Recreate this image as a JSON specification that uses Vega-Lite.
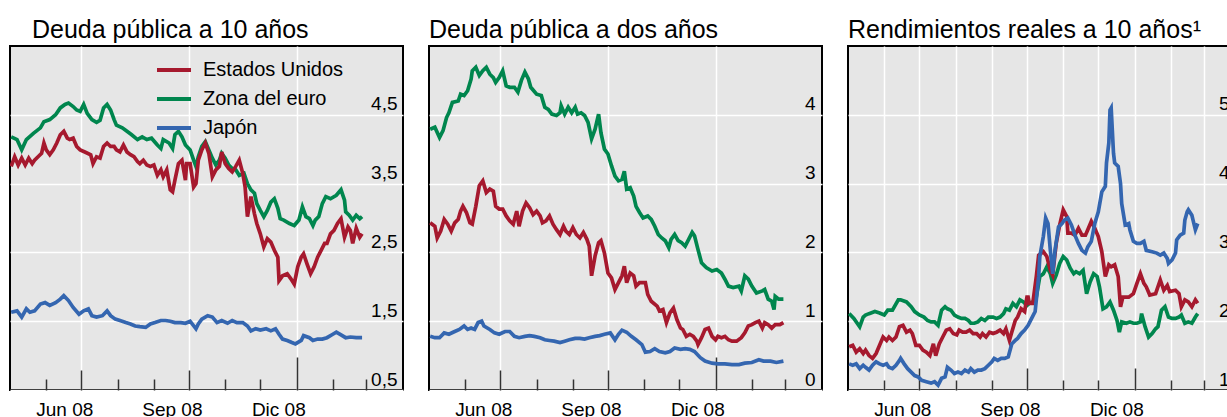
{
"$schema": "https://vega.github.io/schema/vega-lite/v6.json",
"padding": {"left": 9, "top": 17, "right": 0, "bottom": 0},
"background": "white",
"config": {
  "font": "Liberation Sans",
  "view": {"fill": "#e6e6e6", "stroke": "#000000", "strokeWidth": 2},
  "concat": {"spacing": 24},
  "title": {"anchor": "start", "fontSize": 25, "fontWeight": "normal", "color": "#000000", "offset": 3, "baseline": "alphabetic"},
  "axis": {"labelFontSize": 19, "labelColor": "#000000", "title": null}
},
"resolve": {"scale": {"color": "independent"}, "legend": {"color": "independent"}},
"datasets": {
"p1": [
{"fecha":"2008-05-02","serie":"Zona del euro","valor":4.18},{"fecha":"2008-05-07","serie":"Zona del euro","valor":4.14},{"fecha":"2008-05-11","serie":"Zona del euro","valor":3.99},{"fecha":"2008-05-15","serie":"Zona del euro","valor":4.14},{"fecha":"2008-05-21","serie":"Zona del euro","valor":4.23},{"fecha":"2008-05-27","serie":"Zona del euro","valor":4.31},{"fecha":"2008-05-30","serie":"Zona del euro","valor":4.40},{"fecha":"2008-06-04","serie":"Zona del euro","valor":4.43},{"fecha":"2008-06-09","serie":"Zona del euro","valor":4.50},{"fecha":"2008-06-13","serie":"Zona del euro","valor":4.60},{"fecha":"2008-06-17","serie":"Zona del euro","valor":4.65},{"fecha":"2008-06-20","serie":"Zona del euro","valor":4.67},{"fecha":"2008-06-24","serie":"Zona del euro","valor":4.62},{"fecha":"2008-06-27","serie":"Zona del euro","valor":4.57},{"fecha":"2008-06-30","serie":"Zona del euro","valor":4.55},{"fecha":"2008-07-03","serie":"Zona del euro","valor":4.65},{"fecha":"2008-07-06","serie":"Zona del euro","valor":4.52},{"fecha":"2008-07-10","serie":"Zona del euro","valor":4.43},{"fecha":"2008-07-14","serie":"Zona del euro","valor":4.39},{"fecha":"2008-07-17","serie":"Zona del euro","valor":4.42},{"fecha":"2008-07-20","serie":"Zona del euro","valor":4.60},{"fecha":"2008-07-23","serie":"Zona del euro","valor":4.65},{"fecha":"2008-07-26","serie":"Zona del euro","valor":4.57},{"fecha":"2008-07-29","serie":"Zona del euro","valor":4.43},{"fecha":"2008-07-31","serie":"Zona del euro","valor":4.35},{"fecha":"2008-08-05","serie":"Zona del euro","valor":4.31},{"fecha":"2008-08-09","serie":"Zona del euro","valor":4.26},{"fecha":"2008-08-13","serie":"Zona del euro","valor":4.21},{"fecha":"2008-08-18","serie":"Zona del euro","valor":4.14},{"fecha":"2008-08-22","serie":"Zona del euro","valor":4.18},{"fecha":"2008-08-26","serie":"Zona del euro","valor":4.14},{"fecha":"2008-08-30","serie":"Zona del euro","valor":4.16},{"fecha":"2008-09-04","serie":"Zona del euro","valor":4.06},{"fecha":"2008-09-07","serie":"Zona del euro","valor":4.01},{"fecha":"2008-09-09","serie":"Zona del euro","valor":4.14},{"fecha":"2008-09-14","serie":"Zona del euro","valor":4.09},{"fecha":"2008-09-17","serie":"Zona del euro","valor":4.01},{"fecha":"2008-09-19","serie":"Zona del euro","valor":4.21},{"fecha":"2008-09-22","serie":"Zona del euro","valor":4.26},{"fecha":"2008-09-25","serie":"Zona del euro","valor":4.18},{"fecha":"2008-09-28","serie":"Zona del euro","valor":4.06},{"fecha":"2008-10-02","serie":"Zona del euro","valor":3.99},{"fecha":"2008-10-05","serie":"Zona del euro","valor":3.84},{"fecha":"2008-10-07","serie":"Zona del euro","valor":3.75},{"fecha":"2008-10-09","serie":"Zona del euro","valor":3.89},{"fecha":"2008-10-12","serie":"Zona del euro","valor":4.04},{"fecha":"2008-10-15","serie":"Zona del euro","valor":4.11},{"fecha":"2008-10-18","serie":"Zona del euro","valor":3.99},{"fecha":"2008-10-21","serie":"Zona del euro","valor":3.87},{"fecha":"2008-10-24","serie":"Zona del euro","valor":3.77},{"fecha":"2008-10-27","serie":"Zona del euro","valor":3.84},{"fecha":"2008-10-29","serie":"Zona del euro","valor":3.94},{"fecha":"2008-11-01","serie":"Zona del euro","valor":3.87},{"fecha":"2008-11-04","serie":"Zona del euro","valor":3.77},{"fecha":"2008-11-07","serie":"Zona del euro","valor":3.72},{"fecha":"2008-11-10","serie":"Zona del euro","valor":3.70},{"fecha":"2008-11-13","serie":"Zona del euro","valor":3.62},{"fecha":"2008-11-17","serie":"Zona del euro","valor":3.65},{"fecha":"2008-11-20","serie":"Zona del euro","valor":3.50},{"fecha":"2008-11-23","serie":"Zona del euro","valor":3.41},{"fecha":"2008-11-26","serie":"Zona del euro","valor":3.36},{"fecha":"2008-11-28","serie":"Zona del euro","valor":3.21},{"fecha":"2008-12-01","serie":"Zona del euro","valor":3.11},{"fecha":"2008-12-04","serie":"Zona del euro","valor":3.02},{"fecha":"2008-12-07","serie":"Zona del euro","valor":3.11},{"fecha":"2008-12-10","serie":"Zona del euro","valor":3.23},{"fecha":"2008-12-13","serie":"Zona del euro","valor":3.28},{"fecha":"2008-12-16","serie":"Zona del euro","valor":3.14},{"fecha":"2008-12-18","serie":"Zona del euro","valor":2.99},{"fecha":"2008-12-21","serie":"Zona del euro","valor":2.97},{"fecha":"2008-12-26","serie":"Zona del euro","valor":2.92},{"fecha":"2008-12-30","serie":"Zona del euro","valor":2.89},{"fecha":"2009-01-03","serie":"Zona del euro","valor":2.97},{"fecha":"2009-01-06","serie":"Zona del euro","valor":3.16},{"fecha":"2009-01-09","serie":"Zona del euro","valor":3.02},{"fecha":"2009-01-12","serie":"Zona del euro","valor":2.99},{"fecha":"2009-01-15","serie":"Zona del euro","valor":2.89},{"fecha":"2009-01-17","serie":"Zona del euro","valor":2.97},{"fecha":"2009-01-20","serie":"Zona del euro","valor":3.02},{"fecha":"2009-01-23","serie":"Zona del euro","valor":3.21},{"fecha":"2009-01-26","serie":"Zona del euro","valor":3.31},{"fecha":"2009-01-30","serie":"Zona del euro","valor":3.28},{"fecha":"2009-02-04","serie":"Zona del euro","valor":3.33},{"fecha":"2009-02-08","serie":"Zona del euro","valor":3.41},{"fecha":"2009-02-11","serie":"Zona del euro","valor":3.26},{"fecha":"2009-02-12","serie":"Zona del euro","valor":3.09},{"fecha":"2009-02-15","serie":"Zona del euro","valor":3.04},{"fecha":"2009-02-18","serie":"Zona del euro","valor":2.97},{"fecha":"2009-02-21","serie":"Zona del euro","valor":3.04},{"fecha":"2009-02-24","serie":"Zona del euro","valor":2.99},{"fecha":"2009-02-26","serie":"Zona del euro","valor":3.02},
{"fecha":"2008-05-02","serie":"Japón","valor":1.63},{"fecha":"2008-05-07","serie":"Japón","valor":1.65},{"fecha":"2008-05-11","serie":"Japón","valor":1.56},{"fecha":"2008-05-15","serie":"Japón","valor":1.68},{"fecha":"2008-05-18","serie":"Japón","valor":1.63},{"fecha":"2008-05-22","serie":"Japón","valor":1.65},{"fecha":"2008-05-27","serie":"Japón","valor":1.75},{"fecha":"2008-05-31","serie":"Japón","valor":1.77},{"fecha":"2008-06-04","serie":"Japón","valor":1.73},{"fecha":"2008-06-09","serie":"Japón","valor":1.77},{"fecha":"2008-06-13","serie":"Japón","valor":1.82},{"fecha":"2008-06-16","serie":"Japón","valor":1.87},{"fecha":"2008-06-20","serie":"Japón","valor":1.80},{"fecha":"2008-06-24","serie":"Japón","valor":1.70},{"fecha":"2008-06-29","serie":"Japón","valor":1.60},{"fecha":"2008-07-03","serie":"Japón","valor":1.65},{"fecha":"2008-07-07","serie":"Japón","valor":1.68},{"fecha":"2008-07-10","serie":"Japón","valor":1.58},{"fecha":"2008-07-14","serie":"Japón","valor":1.56},{"fecha":"2008-07-19","serie":"Japón","valor":1.58},{"fecha":"2008-07-23","serie":"Japón","valor":1.65},{"fecha":"2008-07-26","serie":"Japón","valor":1.58},{"fecha":"2008-07-30","serie":"Japón","valor":1.53},{"fecha":"2008-08-03","serie":"Japón","valor":1.51},{"fecha":"2008-08-08","serie":"Japón","valor":1.48},{"fecha":"2008-08-12","serie":"Japón","valor":1.46},{"fecha":"2008-08-16","serie":"Japón","valor":1.43},{"fecha":"2008-08-20","serie":"Japón","valor":1.42},{"fecha":"2008-08-25","serie":"Japón","valor":1.41},{"fecha":"2008-08-29","serie":"Japón","valor":1.46},{"fecha":"2008-09-02","serie":"Japón","valor":1.48},{"fecha":"2008-09-07","serie":"Japón","valor":1.51},{"fecha":"2008-09-11","serie":"Japón","valor":1.51},{"fecha":"2008-09-15","serie":"Japón","valor":1.50},{"fecha":"2008-09-19","serie":"Japón","valor":1.48},{"fecha":"2008-09-24","serie":"Japón","valor":1.48},{"fecha":"2008-09-28","serie":"Japón","valor":1.47},{"fecha":"2008-10-02","serie":"Japón","valor":1.50},{"fecha":"2008-10-07","serie":"Japón","valor":1.39},{"fecha":"2008-10-09","serie":"Japón","valor":1.46},{"fecha":"2008-10-12","serie":"Japón","valor":1.53},{"fecha":"2008-10-17","serie":"Japón","valor":1.58},{"fecha":"2008-10-21","serie":"Japón","valor":1.56},{"fecha":"2008-10-25","serie":"Japón","valor":1.48},{"fecha":"2008-10-29","serie":"Japón","valor":1.51},{"fecha":"2008-11-03","serie":"Japón","valor":1.47},{"fecha":"2008-11-07","serie":"Japón","valor":1.51},{"fecha":"2008-11-11","serie":"Japón","valor":1.48},{"fecha":"2008-11-16","serie":"Japón","valor":1.48},{"fecha":"2008-11-20","serie":"Japón","valor":1.43},{"fecha":"2008-11-23","serie":"Japón","valor":1.36},{"fecha":"2008-11-27","serie":"Japón","valor":1.39},{"fecha":"2008-12-01","serie":"Japón","valor":1.37},{"fecha":"2008-12-06","serie":"Japón","valor":1.39},{"fecha":"2008-12-10","serie":"Japón","valor":1.36},{"fecha":"2008-12-14","serie":"Japón","valor":1.39},{"fecha":"2008-12-17","serie":"Japón","valor":1.31},{"fecha":"2008-12-20","serie":"Japón","valor":1.24},{"fecha":"2008-12-24","serie":"Japón","valor":1.22},{"fecha":"2008-12-28","serie":"Japón","valor":1.19},{"fecha":"2008-12-31","serie":"Japón","valor":1.17},{"fecha":"2009-01-05","serie":"Japón","valor":1.22},{"fecha":"2009-01-07","serie":"Japón","valor":1.29},{"fecha":"2009-01-12","serie":"Japón","valor":1.26},{"fecha":"2009-01-15","serie":"Japón","valor":1.22},{"fecha":"2009-01-19","serie":"Japón","valor":1.24},{"fecha":"2009-01-23","serie":"Japón","valor":1.24},{"fecha":"2009-01-27","serie":"Japón","valor":1.26},{"fecha":"2009-02-01","serie":"Japón","valor":1.31},{"fecha":"2009-02-04","serie":"Japón","valor":1.34},{"fecha":"2009-02-08","serie":"Japón","valor":1.30},{"fecha":"2009-02-12","serie":"Japón","valor":1.26},{"fecha":"2009-02-16","serie":"Japón","valor":1.27},{"fecha":"2009-02-21","serie":"Japón","valor":1.26},{"fecha":"2009-02-26","serie":"Japón","valor":1.26},
{"fecha":"2008-05-02","serie":"Estados Unidos","valor":3.75},{"fecha":"2008-05-05","serie":"Estados Unidos","valor":3.89},{"fecha":"2008-05-08","serie":"Estados Unidos","valor":3.77},{"fecha":"2008-05-11","serie":"Estados Unidos","valor":3.87},{"fecha":"2008-05-14","serie":"Estados Unidos","valor":3.77},{"fecha":"2008-05-17","serie":"Estados Unidos","valor":3.87},{"fecha":"2008-05-20","serie":"Estados Unidos","valor":3.79},{"fecha":"2008-05-22","serie":"Estados Unidos","valor":3.84},{"fecha":"2008-05-25","serie":"Estados Unidos","valor":3.89},{"fecha":"2008-05-28","serie":"Estados Unidos","valor":3.94},{"fecha":"2008-05-30","serie":"Estados Unidos","valor":4.09},{"fecha":"2008-06-01","serie":"Estados Unidos","valor":3.99},{"fecha":"2008-06-04","serie":"Estados Unidos","valor":3.92},{"fecha":"2008-06-07","serie":"Estados Unidos","valor":3.99},{"fecha":"2008-06-10","serie":"Estados Unidos","valor":4.09},{"fecha":"2008-06-13","serie":"Estados Unidos","valor":4.21},{"fecha":"2008-06-16","serie":"Estados Unidos","valor":4.26},{"fecha":"2008-06-19","serie":"Estados Unidos","valor":4.16},{"fecha":"2008-06-21","serie":"Estados Unidos","valor":4.14},{"fecha":"2008-06-24","serie":"Estados Unidos","valor":4.16},{"fecha":"2008-06-27","serie":"Estados Unidos","valor":4.04},{"fecha":"2008-06-30","serie":"Estados Unidos","valor":3.99},{"fecha":"2008-07-04","serie":"Estados Unidos","valor":3.96},{"fecha":"2008-07-09","serie":"Estados Unidos","valor":3.92},{"fecha":"2008-07-11","serie":"Estados Unidos","valor":3.79},{"fecha":"2008-07-14","serie":"Estados Unidos","valor":3.89},{"fecha":"2008-07-17","serie":"Estados Unidos","valor":3.87},{"fecha":"2008-07-20","serie":"Estados Unidos","valor":4.04},{"fecha":"2008-07-23","serie":"Estados Unidos","valor":4.09},{"fecha":"2008-07-26","serie":"Estados Unidos","valor":4.04},{"fecha":"2008-07-29","serie":"Estados Unidos","valor":4.04},{"fecha":"2008-07-31","serie":"Estados Unidos","valor":3.99},{"fecha":"2008-08-03","serie":"Estados Unidos","valor":3.96},{"fecha":"2008-08-06","serie":"Estados Unidos","valor":4.06},{"fecha":"2008-08-09","serie":"Estados Unidos","valor":3.96},{"fecha":"2008-08-12","serie":"Estados Unidos","valor":3.92},{"fecha":"2008-08-15","serie":"Estados Unidos","valor":3.89},{"fecha":"2008-08-18","serie":"Estados Unidos","valor":3.82},{"fecha":"2008-08-20","serie":"Estados Unidos","valor":3.79},{"fecha":"2008-08-23","serie":"Estados Unidos","valor":3.84},{"fecha":"2008-08-26","serie":"Estados Unidos","valor":3.77},{"fecha":"2008-08-29","serie":"Estados Unidos","valor":3.75},{"fecha":"2008-09-01","serie":"Estados Unidos","valor":3.77},{"fecha":"2008-09-04","serie":"Estados Unidos","valor":3.62},{"fecha":"2008-09-07","serie":"Estados Unidos","valor":3.70},{"fecha":"2008-09-09","serie":"Estados Unidos","valor":3.60},{"fecha":"2008-09-12","serie":"Estados Unidos","valor":3.70},{"fecha":"2008-09-15","serie":"Estados Unidos","valor":3.41},{"fecha":"2008-09-17","serie":"Estados Unidos","valor":3.38},{"fecha":"2008-09-19","serie":"Estados Unidos","valor":3.55},{"fecha":"2008-09-22","serie":"Estados Unidos","valor":3.79},{"fecha":"2008-09-25","serie":"Estados Unidos","valor":3.84},{"fecha":"2008-09-28","serie":"Estados Unidos","valor":3.55},{"fecha":"2008-09-29","serie":"Estados Unidos","valor":3.79},{"fecha":"2008-10-02","serie":"Estados Unidos","valor":3.79},{"fecha":"2008-10-05","serie":"Estados Unidos","valor":3.45},{"fecha":"2008-10-07","serie":"Estados Unidos","valor":3.50},{"fecha":"2008-10-09","serie":"Estados Unidos","valor":3.84},{"fecha":"2008-10-12","serie":"Estados Unidos","valor":3.99},{"fecha":"2008-10-15","serie":"Estados Unidos","valor":4.09},{"fecha":"2008-10-18","serie":"Estados Unidos","valor":3.94},{"fecha":"2008-10-21","serie":"Estados Unidos","valor":3.60},{"fecha":"2008-10-24","serie":"Estados Unidos","valor":3.70},{"fecha":"2008-10-27","serie":"Estados Unidos","valor":3.75},{"fecha":"2008-10-29","serie":"Estados Unidos","valor":3.96},{"fecha":"2008-11-01","serie":"Estados Unidos","valor":3.79},{"fecha":"2008-11-04","serie":"Estados Unidos","valor":3.72},{"fecha":"2008-11-07","serie":"Estados Unidos","valor":3.67},{"fecha":"2008-11-10","serie":"Estados Unidos","valor":3.75},{"fecha":"2008-11-13","serie":"Estados Unidos","valor":3.84},{"fecha":"2008-11-16","serie":"Estados Unidos","valor":3.65},{"fecha":"2008-11-18","serie":"Estados Unidos","valor":3.45},{"fecha":"2008-11-20","serie":"Estados Unidos","valor":3.02},{"fecha":"2008-11-23","serie":"Estados Unidos","valor":3.31},{"fecha":"2008-11-26","serie":"Estados Unidos","valor":3.06},{"fecha":"2008-11-28","serie":"Estados Unidos","valor":2.92},{"fecha":"2008-12-01","serie":"Estados Unidos","valor":2.77},{"fecha":"2008-12-04","serie":"Estados Unidos","valor":2.58},{"fecha":"2008-12-07","serie":"Estados Unidos","valor":2.70},{"fecha":"2008-12-10","serie":"Estados Unidos","valor":2.65},{"fecha":"2008-12-13","serie":"Estados Unidos","valor":2.53},{"fecha":"2008-12-16","serie":"Estados Unidos","valor":2.43},{"fecha":"2008-12-17","serie":"Estados Unidos","valor":2.09},{"fecha":"2008-12-20","serie":"Estados Unidos","valor":2.16},{"fecha":"2008-12-24","serie":"Estados Unidos","valor":2.19},{"fecha":"2008-12-27","serie":"Estados Unidos","valor":2.12},{"fecha":"2008-12-30","serie":"Estados Unidos","valor":2.04},{"fecha":"2009-01-02","serie":"Estados Unidos","valor":2.29},{"fecha":"2009-01-05","serie":"Estados Unidos","valor":2.43},{"fecha":"2009-01-07","serie":"Estados Unidos","valor":2.48},{"fecha":"2009-01-10","serie":"Estados Unidos","valor":2.33},{"fecha":"2009-01-13","serie":"Estados Unidos","valor":2.19},{"fecha":"2009-01-16","serie":"Estados Unidos","valor":2.29},{"fecha":"2009-01-19","serie":"Estados Unidos","valor":2.43},{"fecha":"2009-01-22","serie":"Estados Unidos","valor":2.53},{"fecha":"2009-01-25","serie":"Estados Unidos","valor":2.63},{"fecha":"2009-01-27","serie":"Estados Unidos","valor":2.63},{"fecha":"2009-01-30","serie":"Estados Unidos","valor":2.77},{"fecha":"2009-02-02","serie":"Estados Unidos","valor":2.82},{"fecha":"2009-02-05","serie":"Estados Unidos","valor":2.92},{"fecha":"2009-02-08","serie":"Estados Unidos","valor":2.99},{"fecha":"2009-02-11","serie":"Estados Unidos","valor":2.72},{"fecha":"2009-02-14","serie":"Estados Unidos","valor":2.87},{"fecha":"2009-02-16","serie":"Estados Unidos","valor":2.82},{"fecha":"2009-02-18","serie":"Estados Unidos","valor":2.63},{"fecha":"2009-02-21","serie":"Estados Unidos","valor":2.85},{"fecha":"2009-02-24","serie":"Estados Unidos","valor":2.72},{"fecha":"2009-02-26","serie":"Estados Unidos","valor":2.77}
],
"p2": [
{"fecha":"2008-05-02","serie":"Zona del euro","valor":3.79},{"fecha":"2008-05-06","serie":"Zona del euro","valor":3.82},{"fecha":"2008-05-10","serie":"Zona del euro","valor":3.67},{"fecha":"2008-05-13","serie":"Zona del euro","valor":3.77},{"fecha":"2008-05-16","serie":"Zona del euro","valor":3.96},{"fecha":"2008-05-18","serie":"Zona del euro","valor":4.03},{"fecha":"2008-05-21","serie":"Zona del euro","valor":4.18},{"fecha":"2008-05-26","serie":"Zona del euro","valor":4.20},{"fecha":"2008-05-28","serie":"Zona del euro","valor":4.30},{"fecha":"2008-05-31","serie":"Zona del euro","valor":4.28},{"fecha":"2008-06-03","serie":"Zona del euro","valor":4.35},{"fecha":"2008-06-06","serie":"Zona del euro","valor":4.52},{"fecha":"2008-06-07","serie":"Zona del euro","valor":4.64},{"fecha":"2008-06-10","serie":"Zona del euro","valor":4.69},{"fecha":"2008-06-13","serie":"Zona del euro","valor":4.57},{"fecha":"2008-06-16","serie":"Zona del euro","valor":4.64},{"fecha":"2008-06-19","serie":"Zona del euro","valor":4.69},{"fecha":"2008-06-22","serie":"Zona del euro","valor":4.59},{"fecha":"2008-06-25","serie":"Zona del euro","valor":4.54},{"fecha":"2008-06-27","serie":"Zona del euro","valor":4.47},{"fecha":"2008-06-30","serie":"Zona del euro","valor":4.54},{"fecha":"2008-07-03","serie":"Zona del euro","valor":4.64},{"fecha":"2008-07-06","serie":"Zona del euro","valor":4.42},{"fecha":"2008-07-09","serie":"Zona del euro","valor":4.40},{"fecha":"2008-07-13","serie":"Zona del euro","valor":4.40},{"fecha":"2008-07-16","serie":"Zona del euro","valor":4.33},{"fecha":"2008-07-19","serie":"Zona del euro","valor":4.50},{"fecha":"2008-07-22","serie":"Zona del euro","valor":4.62},{"fecha":"2008-07-25","serie":"Zona del euro","valor":4.52},{"fecha":"2008-07-27","serie":"Zona del euro","valor":4.40},{"fecha":"2008-08-01","serie":"Zona del euro","valor":4.30},{"fecha":"2008-08-05","serie":"Zona del euro","valor":4.28},{"fecha":"2008-08-08","serie":"Zona del euro","valor":4.11},{"fecha":"2008-08-11","serie":"Zona del euro","valor":4.08},{"fecha":"2008-08-14","serie":"Zona del euro","valor":4.01},{"fecha":"2008-08-18","serie":"Zona del euro","valor":3.99},{"fecha":"2008-08-21","serie":"Zona del euro","valor":4.03},{"fecha":"2008-08-22","serie":"Zona del euro","valor":4.13},{"fecha":"2008-08-25","serie":"Zona del euro","valor":4.01},{"fecha":"2008-08-28","serie":"Zona del euro","valor":4.11},{"fecha":"2008-08-31","serie":"Zona del euro","valor":4.03},{"fecha":"2008-09-03","serie":"Zona del euro","valor":4.11},{"fecha":"2008-09-05","serie":"Zona del euro","valor":4.01},{"fecha":"2008-09-08","serie":"Zona del euro","valor":4.03},{"fecha":"2008-09-11","serie":"Zona del euro","valor":3.99},{"fecha":"2008-09-14","serie":"Zona del euro","valor":3.89},{"fecha":"2008-09-17","serie":"Zona del euro","valor":3.65},{"fecha":"2008-09-20","serie":"Zona del euro","valor":3.79},{"fecha":"2008-09-23","serie":"Zona del euro","valor":4.01},{"fecha":"2008-09-25","serie":"Zona del euro","valor":3.74},{"fecha":"2008-09-28","serie":"Zona del euro","valor":3.50},{"fecha":"2008-10-01","serie":"Zona del euro","valor":3.43},{"fecha":"2008-10-04","serie":"Zona del euro","valor":3.26},{"fecha":"2008-10-07","serie":"Zona del euro","valor":3.11},{"fecha":"2008-10-10","serie":"Zona del euro","valor":3.04},{"fecha":"2008-10-13","serie":"Zona del euro","valor":3.06},{"fecha":"2008-10-15","serie":"Zona del euro","valor":3.18},{"fecha":"2008-10-17","serie":"Zona del euro","valor":2.92},{"fecha":"2008-10-20","serie":"Zona del euro","valor":2.94},{"fecha":"2008-10-23","serie":"Zona del euro","valor":2.82},{"fecha":"2008-10-25","serie":"Zona del euro","valor":2.67},{"fecha":"2008-10-28","serie":"Zona del euro","valor":2.58},{"fecha":"2008-10-31","serie":"Zona del euro","valor":2.50},{"fecha":"2008-11-04","serie":"Zona del euro","valor":2.53},{"fecha":"2008-11-07","serie":"Zona del euro","valor":2.48},{"fecha":"2008-11-10","serie":"Zona del euro","valor":2.38},{"fecha":"2008-11-13","serie":"Zona del euro","valor":2.26},{"fecha":"2008-11-16","serie":"Zona del euro","valor":2.21},{"fecha":"2008-11-19","serie":"Zona del euro","valor":2.17},{"fecha":"2008-11-22","serie":"Zona del euro","valor":2.07},{"fecha":"2008-11-24","serie":"Zona del euro","valor":2.19},{"fecha":"2008-11-27","serie":"Zona del euro","valor":2.26},{"fecha":"2008-11-30","serie":"Zona del euro","valor":2.17},{"fecha":"2008-12-03","serie":"Zona del euro","valor":2.14},{"fecha":"2008-12-06","serie":"Zona del euro","valor":2.09},{"fecha":"2008-12-09","serie":"Zona del euro","valor":2.19},{"fecha":"2008-12-12","serie":"Zona del euro","valor":2.29},{"fecha":"2008-12-14","serie":"Zona del euro","valor":2.24},{"fecha":"2008-12-17","serie":"Zona del euro","valor":2.04},{"fecha":"2008-12-20","serie":"Zona del euro","valor":1.85},{"fecha":"2008-12-24","serie":"Zona del euro","valor":1.78},{"fecha":"2008-12-29","serie":"Zona del euro","valor":1.73},{"fecha":"2009-01-02","serie":"Zona del euro","valor":1.75},{"fecha":"2009-01-06","serie":"Zona del euro","valor":1.70},{"fecha":"2009-01-09","serie":"Zona del euro","valor":1.61},{"fecha":"2009-01-12","serie":"Zona del euro","valor":1.51},{"fecha":"2009-01-16","serie":"Zona del euro","valor":1.49},{"fecha":"2009-01-21","serie":"Zona del euro","valor":1.51},{"fecha":"2009-01-23","serie":"Zona del euro","valor":1.44},{"fecha":"2009-01-26","serie":"Zona del euro","valor":1.66},{"fecha":"2009-01-29","serie":"Zona del euro","valor":1.61},{"fecha":"2009-02-01","serie":"Zona del euro","valor":1.51},{"fecha":"2009-02-05","serie":"Zona del euro","valor":1.41},{"fecha":"2009-02-10","serie":"Zona del euro","valor":1.44},{"fecha":"2009-02-12","serie":"Zona del euro","valor":1.46},{"fecha":"2009-02-15","serie":"Zona del euro","valor":1.32},{"fecha":"2009-02-18","serie":"Zona del euro","valor":1.29},{"fecha":"2009-02-20","serie":"Zona del euro","valor":1.17},{"fecha":"2009-02-21","serie":"Zona del euro","valor":1.36},{"fecha":"2009-02-24","serie":"Zona del euro","valor":1.32},{"fecha":"2009-02-28","serie":"Zona del euro","valor":1.32},
{"fecha":"2008-05-02","serie":"Japón","valor":0.78},{"fecha":"2008-05-06","serie":"Japón","valor":0.76},{"fecha":"2008-05-10","serie":"Japón","valor":0.76},{"fecha":"2008-05-14","serie":"Japón","valor":0.83},{"fecha":"2008-05-18","serie":"Japón","valor":0.81},{"fecha":"2008-05-23","serie":"Japón","valor":0.85},{"fecha":"2008-05-27","serie":"Japón","valor":0.88},{"fecha":"2008-05-31","serie":"Japón","valor":0.93},{"fecha":"2008-06-03","serie":"Japón","valor":0.88},{"fecha":"2008-06-06","serie":"Japón","valor":0.90},{"fecha":"2008-06-09","serie":"Japón","valor":0.88},{"fecha":"2008-06-12","serie":"Japón","valor":0.98},{"fecha":"2008-06-15","serie":"Japón","valor":1.00},{"fecha":"2008-06-17","serie":"Japón","valor":0.93},{"fecha":"2008-06-22","serie":"Japón","valor":0.88},{"fecha":"2008-06-26","serie":"Japón","valor":0.83},{"fecha":"2008-06-30","serie":"Japón","valor":0.81},{"fecha":"2008-07-05","serie":"Japón","valor":0.85},{"fecha":"2008-07-09","serie":"Japón","valor":0.85},{"fecha":"2008-07-13","serie":"Japón","valor":0.78},{"fecha":"2008-07-17","serie":"Japón","valor":0.76},{"fecha":"2008-07-22","serie":"Japón","valor":0.78},{"fecha":"2008-07-26","serie":"Japón","valor":0.79},{"fecha":"2008-07-30","serie":"Japón","valor":0.78},{"fecha":"2008-08-04","serie":"Japón","valor":0.76},{"fecha":"2008-08-08","serie":"Japón","valor":0.73},{"fecha":"2008-08-12","serie":"Japón","valor":0.72},{"fecha":"2008-08-16","serie":"Japón","valor":0.71},{"fecha":"2008-08-21","serie":"Japón","valor":0.69},{"fecha":"2008-08-25","serie":"Japón","valor":0.71},{"fecha":"2008-08-29","serie":"Japón","valor":0.73},{"fecha":"2008-09-03","serie":"Japón","valor":0.75},{"fecha":"2008-09-07","serie":"Japón","valor":0.75},{"fecha":"2008-09-11","serie":"Japón","valor":0.74},{"fecha":"2008-09-15","serie":"Japón","valor":0.76},{"fecha":"2008-09-20","serie":"Japón","valor":0.78},{"fecha":"2008-09-24","serie":"Japón","valor":0.79},{"fecha":"2008-09-28","serie":"Japón","valor":0.81},{"fecha":"2008-10-03","serie":"Japón","valor":0.83},{"fecha":"2008-10-07","serie":"Japón","valor":0.73},{"fecha":"2008-10-10","serie":"Japón","valor":0.81},{"fecha":"2008-10-13","serie":"Japón","valor":0.87},{"fecha":"2008-10-17","serie":"Japón","valor":0.84},{"fecha":"2008-10-21","serie":"Japón","valor":0.78},{"fecha":"2008-10-25","serie":"Japón","valor":0.73},{"fecha":"2008-10-30","serie":"Japón","valor":0.66},{"fecha":"2008-11-02","serie":"Japón","valor":0.55},{"fecha":"2008-11-06","serie":"Japón","valor":0.56},{"fecha":"2008-11-10","serie":"Japón","valor":0.60},{"fecha":"2008-11-14","serie":"Japón","valor":0.56},{"fecha":"2008-11-19","serie":"Japón","valor":0.54},{"fecha":"2008-11-23","serie":"Japón","valor":0.56},{"fecha":"2008-11-27","serie":"Japón","valor":0.61},{"fecha":"2008-12-02","serie":"Japón","valor":0.59},{"fecha":"2008-12-06","serie":"Japón","valor":0.60},{"fecha":"2008-12-10","serie":"Japón","valor":0.59},{"fecha":"2008-12-14","serie":"Japón","valor":0.56},{"fecha":"2008-12-19","serie":"Japón","valor":0.47},{"fecha":"2008-12-23","serie":"Japón","valor":0.42},{"fecha":"2008-12-29","serie":"Japón","valor":0.39},{"fecha":"2009-01-03","serie":"Japón","valor":0.38},{"fecha":"2009-01-09","serie":"Japón","valor":0.38},{"fecha":"2009-01-15","serie":"Japón","valor":0.37},{"fecha":"2009-01-21","serie":"Japón","valor":0.37},{"fecha":"2009-01-26","serie":"Japón","valor":0.39},{"fecha":"2009-02-01","serie":"Japón","valor":0.40},{"fecha":"2009-02-07","serie":"Japón","valor":0.44},{"fecha":"2009-02-11","serie":"Japón","valor":0.42},{"fecha":"2009-02-17","serie":"Japón","valor":0.42},{"fecha":"2009-02-22","serie":"Japón","valor":0.40},{"fecha":"2009-02-28","serie":"Japón","valor":0.42},
{"fecha":"2008-05-02","serie":"Estados Unidos","valor":2.43},{"fecha":"2008-05-06","serie":"Estados Unidos","valor":2.38},{"fecha":"2008-05-08","serie":"Estados Unidos","valor":2.21},{"fecha":"2008-05-11","serie":"Estados Unidos","valor":2.31},{"fecha":"2008-05-14","serie":"Estados Unidos","valor":2.48},{"fecha":"2008-05-17","serie":"Estados Unidos","valor":2.41},{"fecha":"2008-05-20","serie":"Estados Unidos","valor":2.31},{"fecha":"2008-05-23","serie":"Estados Unidos","valor":2.43},{"fecha":"2008-05-26","serie":"Estados Unidos","valor":2.48},{"fecha":"2008-05-28","serie":"Estados Unidos","valor":2.60},{"fecha":"2008-05-30","serie":"Estados Unidos","valor":2.67},{"fecha":"2008-06-02","serie":"Estados Unidos","valor":2.58},{"fecha":"2008-06-05","serie":"Estados Unidos","valor":2.43},{"fecha":"2008-06-07","serie":"Estados Unidos","valor":2.41},{"fecha":"2008-06-10","serie":"Estados Unidos","valor":2.67},{"fecha":"2008-06-13","serie":"Estados Unidos","valor":2.97},{"fecha":"2008-06-16","serie":"Estados Unidos","valor":3.04},{"fecha":"2008-06-19","serie":"Estados Unidos","valor":2.87},{"fecha":"2008-06-22","serie":"Estados Unidos","valor":2.92},{"fecha":"2008-06-25","serie":"Estados Unidos","valor":2.89},{"fecha":"2008-06-27","serie":"Estados Unidos","valor":2.67},{"fecha":"2008-06-30","serie":"Estados Unidos","valor":2.63},{"fecha":"2008-07-03","serie":"Estados Unidos","valor":2.63},{"fecha":"2008-07-06","serie":"Estados Unidos","valor":2.53},{"fecha":"2008-07-09","serie":"Estados Unidos","valor":2.46},{"fecha":"2008-07-12","serie":"Estados Unidos","valor":2.41},{"fecha":"2008-07-15","serie":"Estados Unidos","valor":2.60},{"fecha":"2008-07-17","serie":"Estados Unidos","valor":2.38},{"fecha":"2008-07-20","serie":"Estados Unidos","valor":2.60},{"fecha":"2008-07-23","serie":"Estados Unidos","valor":2.72},{"fecha":"2008-07-26","serie":"Estados Unidos","valor":2.65},{"fecha":"2008-07-29","serie":"Estados Unidos","valor":2.55},{"fecha":"2008-08-01","serie":"Estados Unidos","valor":2.60},{"fecha":"2008-08-04","serie":"Estados Unidos","valor":2.53},{"fecha":"2008-08-06","serie":"Estados Unidos","valor":2.43},{"fecha":"2008-08-09","serie":"Estados Unidos","valor":2.46},{"fecha":"2008-08-12","serie":"Estados Unidos","valor":2.53},{"fecha":"2008-08-15","serie":"Estados Unidos","valor":2.41},{"fecha":"2008-08-18","serie":"Estados Unidos","valor":2.33},{"fecha":"2008-08-21","serie":"Estados Unidos","valor":2.26},{"fecha":"2008-08-24","serie":"Estados Unidos","valor":2.38},{"fecha":"2008-08-26","serie":"Estados Unidos","valor":2.31},{"fecha":"2008-08-29","serie":"Estados Unidos","valor":2.26},{"fecha":"2008-09-01","serie":"Estados Unidos","valor":2.36},{"fecha":"2008-09-04","serie":"Estados Unidos","valor":2.26},{"fecha":"2008-09-07","serie":"Estados Unidos","valor":2.21},{"fecha":"2008-09-10","serie":"Estados Unidos","valor":2.29},{"fecha":"2008-09-13","serie":"Estados Unidos","valor":2.19},{"fecha":"2008-09-15","serie":"Estados Unidos","valor":2.09},{"fecha":"2008-09-17","serie":"Estados Unidos","valor":1.66},{"fecha":"2008-09-20","serie":"Estados Unidos","valor":1.95},{"fecha":"2008-09-23","serie":"Estados Unidos","valor":2.14},{"fecha":"2008-09-25","serie":"Estados Unidos","valor":2.17},{"fecha":"2008-09-28","serie":"Estados Unidos","valor":1.99},{"fecha":"2008-10-01","serie":"Estados Unidos","valor":1.70},{"fecha":"2008-10-04","serie":"Estados Unidos","valor":1.63},{"fecha":"2008-10-07","serie":"Estados Unidos","valor":1.46},{"fecha":"2008-10-10","serie":"Estados Unidos","valor":1.56},{"fecha":"2008-10-13","serie":"Estados Unidos","valor":1.66},{"fecha":"2008-10-15","serie":"Estados Unidos","valor":1.80},{"fecha":"2008-10-17","serie":"Estados Unidos","valor":1.56},{"fecha":"2008-10-20","serie":"Estados Unidos","valor":1.70},{"fecha":"2008-10-23","serie":"Estados Unidos","valor":1.66},{"fecha":"2008-10-25","serie":"Estados Unidos","valor":1.51},{"fecha":"2008-10-28","serie":"Estados Unidos","valor":1.56},{"fecha":"2008-11-02","serie":"Estados Unidos","valor":1.56},{"fecha":"2008-11-04","serie":"Estados Unidos","valor":1.39},{"fecha":"2008-11-07","serie":"Estados Unidos","valor":1.29},{"fecha":"2008-11-12","serie":"Estados Unidos","valor":1.22},{"fecha":"2008-11-14","serie":"Estados Unidos","valor":1.15},{"fecha":"2008-11-17","serie":"Estados Unidos","valor":1.17},{"fecha":"2008-11-20","serie":"Estados Unidos","valor":0.98},{"fecha":"2008-11-23","serie":"Estados Unidos","valor":1.12},{"fecha":"2008-11-26","serie":"Estados Unidos","valor":1.19},{"fecha":"2008-11-29","serie":"Estados Unidos","valor":1.02},{"fecha":"2008-12-02","serie":"Estados Unidos","valor":0.90},{"fecha":"2008-12-04","serie":"Estados Unidos","valor":0.88},{"fecha":"2008-12-07","serie":"Estados Unidos","valor":0.78},{"fecha":"2008-12-10","serie":"Estados Unidos","valor":0.81},{"fecha":"2008-12-13","serie":"Estados Unidos","valor":0.78},{"fecha":"2008-12-16","serie":"Estados Unidos","valor":0.71},{"fecha":"2008-12-17","serie":"Estados Unidos","valor":0.66},{"fecha":"2008-12-20","serie":"Estados Unidos","valor":0.76},{"fecha":"2008-12-23","serie":"Estados Unidos","valor":0.88},{"fecha":"2008-12-26","serie":"Estados Unidos","valor":0.90},{"fecha":"2008-12-29","serie":"Estados Unidos","valor":0.78},{"fecha":"2009-01-01","serie":"Estados Unidos","valor":0.73},{"fecha":"2009-01-03","serie":"Estados Unidos","valor":0.78},{"fecha":"2009-01-06","serie":"Estados Unidos","valor":0.76},{"fecha":"2009-01-09","serie":"Estados Unidos","valor":0.78},{"fecha":"2009-01-12","serie":"Estados Unidos","valor":0.73},{"fecha":"2009-01-15","serie":"Estados Unidos","valor":0.71},{"fecha":"2009-01-19","serie":"Estados Unidos","valor":0.71},{"fecha":"2009-01-23","serie":"Estados Unidos","valor":0.76},{"fecha":"2009-01-26","serie":"Estados Unidos","valor":0.83},{"fecha":"2009-01-29","serie":"Estados Unidos","valor":0.93},{"fecha":"2009-02-01","serie":"Estados Unidos","valor":0.95},{"fecha":"2009-02-04","serie":"Estados Unidos","valor":0.98},{"fecha":"2009-02-07","serie":"Estados Unidos","valor":1.00},{"fecha":"2009-02-10","serie":"Estados Unidos","valor":0.90},{"fecha":"2009-02-12","serie":"Estados Unidos","valor":0.98},{"fecha":"2009-02-15","serie":"Estados Unidos","valor":0.95},{"fecha":"2009-02-18","serie":"Estados Unidos","valor":0.90},{"fecha":"2009-02-21","serie":"Estados Unidos","valor":0.95},{"fecha":"2009-02-25","serie":"Estados Unidos","valor":0.95},{"fecha":"2009-02-28","serie":"Estados Unidos","valor":0.98}
],
"p3": [
{"fecha":"2008-05-02","serie":"Zona del euro","valor":2.11},{"fecha":"2008-05-06","serie":"Zona del euro","valor":2.04},{"fecha":"2008-05-11","serie":"Zona del euro","valor":1.92},{"fecha":"2008-05-14","serie":"Zona del euro","valor":2.06},{"fecha":"2008-05-16","serie":"Zona del euro","valor":2.09},{"fecha":"2008-05-19","serie":"Zona del euro","valor":2.11},{"fecha":"2008-05-24","serie":"Zona del euro","valor":2.14},{"fecha":"2008-05-28","serie":"Zona del euro","valor":2.12},{"fecha":"2008-06-01","serie":"Zona del euro","valor":2.09},{"fecha":"2008-06-04","serie":"Zona del euro","valor":2.16},{"fecha":"2008-06-08","serie":"Zona del euro","valor":2.16},{"fecha":"2008-06-13","serie":"Zona del euro","valor":2.31},{"fecha":"2008-06-15","serie":"Zona del euro","valor":2.31},{"fecha":"2008-06-20","serie":"Zona del euro","valor":2.28},{"fecha":"2008-06-24","serie":"Zona del euro","valor":2.21},{"fecha":"2008-06-27","serie":"Zona del euro","valor":2.14},{"fecha":"2008-07-01","serie":"Zona del euro","valor":2.09},{"fecha":"2008-07-05","serie":"Zona del euro","valor":2.06},{"fecha":"2008-07-08","serie":"Zona del euro","valor":2.01},{"fecha":"2008-07-11","serie":"Zona del euro","valor":1.99},{"fecha":"2008-07-14","serie":"Zona del euro","valor":1.99},{"fecha":"2008-07-17","serie":"Zona del euro","valor":1.94},{"fecha":"2008-07-20","serie":"Zona del euro","valor":2.16},{"fecha":"2008-07-23","serie":"Zona del euro","valor":2.21},{"fecha":"2008-07-25","serie":"Zona del euro","valor":2.18},{"fecha":"2008-07-28","serie":"Zona del euro","valor":2.16},{"fecha":"2008-07-31","serie":"Zona del euro","valor":2.09},{"fecha":"2008-08-03","serie":"Zona del euro","valor":2.06},{"fecha":"2008-08-06","serie":"Zona del euro","valor":2.04},{"fecha":"2008-08-09","serie":"Zona del euro","valor":2.04},{"fecha":"2008-08-12","serie":"Zona del euro","valor":2.01},{"fecha":"2008-08-14","serie":"Zona del euro","valor":1.97},{"fecha":"2008-08-17","serie":"Zona del euro","valor":1.97},{"fecha":"2008-08-20","serie":"Zona del euro","valor":1.99},{"fecha":"2008-08-23","serie":"Zona del euro","valor":2.04},{"fecha":"2008-08-26","serie":"Zona del euro","valor":2.01},{"fecha":"2008-08-29","serie":"Zona del euro","valor":2.06},{"fecha":"2008-09-02","serie":"Zona del euro","valor":2.06},{"fecha":"2008-09-05","serie":"Zona del euro","valor":2.04},{"fecha":"2008-09-08","serie":"Zona del euro","valor":2.06},{"fecha":"2008-09-11","serie":"Zona del euro","valor":2.11},{"fecha":"2008-09-13","serie":"Zona del euro","valor":2.18},{"fecha":"2008-09-16","serie":"Zona del euro","valor":2.16},{"fecha":"2008-09-19","serie":"Zona del euro","valor":2.26},{"fecha":"2008-09-22","serie":"Zona del euro","valor":2.21},{"fecha":"2008-09-25","serie":"Zona del euro","valor":2.31},{"fecha":"2008-09-28","serie":"Zona del euro","valor":2.28},{"fecha":"2008-10-01","serie":"Zona del euro","valor":2.23},{"fecha":"2008-10-03","serie":"Zona del euro","valor":2.26},{"fecha":"2008-10-06","serie":"Zona del euro","valor":2.28},{"fecha":"2008-10-09","serie":"Zona del euro","valor":2.35},{"fecha":"2008-10-12","serie":"Zona del euro","valor":2.65},{"fecha":"2008-10-15","serie":"Zona del euro","valor":2.69},{"fecha":"2008-10-18","serie":"Zona del euro","valor":2.79},{"fecha":"2008-10-21","serie":"Zona del euro","valor":2.69},{"fecha":"2008-10-23","serie":"Zona del euro","valor":2.55},{"fecha":"2008-10-26","serie":"Zona del euro","valor":2.67},{"fecha":"2008-10-29","serie":"Zona del euro","valor":2.84},{"fecha":"2008-11-01","serie":"Zona del euro","valor":2.94},{"fecha":"2008-11-04","serie":"Zona del euro","valor":2.89},{"fecha":"2008-11-07","serie":"Zona del euro","valor":2.77},{"fecha":"2008-11-10","serie":"Zona del euro","valor":2.69},{"fecha":"2008-11-12","serie":"Zona del euro","valor":2.72},{"fecha":"2008-11-15","serie":"Zona del euro","valor":2.69},{"fecha":"2008-11-18","serie":"Zona del euro","valor":2.74},{"fecha":"2008-11-21","serie":"Zona del euro","valor":2.40},{"fecha":"2008-11-24","serie":"Zona del euro","valor":2.57},{"fecha":"2008-11-27","serie":"Zona del euro","valor":2.69},{"fecha":"2008-11-30","serie":"Zona del euro","valor":2.65},{"fecha":"2008-12-02","serie":"Zona del euro","valor":2.50},{"fecha":"2008-12-05","serie":"Zona del euro","valor":2.18},{"fecha":"2008-12-08","serie":"Zona del euro","valor":2.21},{"fecha":"2008-12-11","serie":"Zona del euro","valor":2.28},{"fecha":"2008-12-14","serie":"Zona del euro","valor":2.16},{"fecha":"2008-12-17","serie":"Zona del euro","valor":2.01},{"fecha":"2008-12-19","serie":"Zona del euro","valor":1.84},{"fecha":"2008-12-21","serie":"Zona del euro","valor":1.99},{"fecha":"2008-12-25","serie":"Zona del euro","valor":1.97},{"fecha":"2008-12-28","serie":"Zona del euro","valor":1.99},{"fecha":"2008-12-31","serie":"Zona del euro","valor":1.97},{"fecha":"2009-01-03","serie":"Zona del euro","valor":1.97},{"fecha":"2009-01-06","serie":"Zona del euro","valor":1.99},{"fecha":"2009-01-07","serie":"Zona del euro","valor":2.11},{"fecha":"2009-01-10","serie":"Zona del euro","valor":1.92},{"fecha":"2009-01-13","serie":"Zona del euro","valor":1.77},{"fecha":"2009-01-16","serie":"Zona del euro","valor":1.82},{"fecha":"2009-01-19","serie":"Zona del euro","valor":1.89},{"fecha":"2009-01-21","serie":"Zona del euro","valor":1.92},{"fecha":"2009-01-24","serie":"Zona del euro","valor":2.16},{"fecha":"2009-01-27","serie":"Zona del euro","valor":2.21},{"fecha":"2009-01-30","serie":"Zona del euro","valor":2.06},{"fecha":"2009-02-02","serie":"Zona del euro","valor":2.04},{"fecha":"2009-02-05","serie":"Zona del euro","valor":2.04},{"fecha":"2009-02-08","serie":"Zona del euro","valor":2.06},{"fecha":"2009-02-10","serie":"Zona del euro","valor":2.09},{"fecha":"2009-02-13","serie":"Zona del euro","valor":1.97},{"fecha":"2009-02-16","serie":"Zona del euro","valor":1.99},{"fecha":"2009-02-19","serie":"Zona del euro","valor":1.97},{"fecha":"2009-02-22","serie":"Zona del euro","valor":2.06},{"fecha":"2009-02-24","serie":"Zona del euro","valor":2.11},
{"fecha":"2008-05-02","serie":"Estados Unidos","valor":1.63},{"fecha":"2008-05-05","serie":"Estados Unidos","valor":1.65},{"fecha":"2008-05-08","serie":"Estados Unidos","valor":1.55},{"fecha":"2008-05-11","serie":"Estados Unidos","valor":1.60},{"fecha":"2008-05-14","serie":"Estados Unidos","valor":1.53},{"fecha":"2008-05-16","serie":"Estados Unidos","valor":1.58},{"fecha":"2008-05-19","serie":"Estados Unidos","valor":1.50},{"fecha":"2008-05-22","serie":"Estados Unidos","valor":1.46},{"fecha":"2008-05-25","serie":"Estados Unidos","valor":1.53},{"fecha":"2008-05-28","serie":"Estados Unidos","valor":1.65},{"fecha":"2008-05-31","serie":"Estados Unidos","valor":1.77},{"fecha":"2008-06-03","serie":"Estados Unidos","valor":1.72},{"fecha":"2008-06-05","serie":"Estados Unidos","valor":1.77},{"fecha":"2008-06-08","serie":"Estados Unidos","valor":1.72},{"fecha":"2008-06-11","serie":"Estados Unidos","valor":1.77},{"fecha":"2008-06-14","serie":"Estados Unidos","valor":1.92},{"fecha":"2008-06-17","serie":"Estados Unidos","valor":1.94},{"fecha":"2008-06-20","serie":"Estados Unidos","valor":1.84},{"fecha":"2008-06-23","serie":"Estados Unidos","valor":1.87},{"fecha":"2008-06-25","serie":"Estados Unidos","valor":1.82},{"fecha":"2008-06-28","serie":"Estados Unidos","valor":1.65},{"fecha":"2008-07-01","serie":"Estados Unidos","valor":1.65},{"fecha":"2008-07-04","serie":"Estados Unidos","valor":1.58},{"fecha":"2008-07-07","serie":"Estados Unidos","valor":1.55},{"fecha":"2008-07-10","serie":"Estados Unidos","valor":1.50},{"fecha":"2008-07-13","serie":"Estados Unidos","valor":1.67},{"fecha":"2008-07-15","serie":"Estados Unidos","valor":1.50},{"fecha":"2008-07-18","serie":"Estados Unidos","valor":1.67},{"fecha":"2008-07-21","serie":"Estados Unidos","valor":1.77},{"fecha":"2008-07-24","serie":"Estados Unidos","valor":1.87},{"fecha":"2008-07-27","serie":"Estados Unidos","valor":1.89},{"fecha":"2008-07-30","serie":"Estados Unidos","valor":1.82},{"fecha":"2008-08-02","serie":"Estados Unidos","valor":1.80},{"fecha":"2008-08-04","serie":"Estados Unidos","valor":1.87},{"fecha":"2008-08-07","serie":"Estados Unidos","valor":1.84},{"fecha":"2008-08-10","serie":"Estados Unidos","valor":1.84},{"fecha":"2008-08-13","serie":"Estados Unidos","valor":1.87},{"fecha":"2008-08-16","serie":"Estados Unidos","valor":1.82},{"fecha":"2008-08-19","serie":"Estados Unidos","valor":1.82},{"fecha":"2008-08-22","serie":"Estados Unidos","valor":1.77},{"fecha":"2008-08-24","serie":"Estados Unidos","valor":1.82},{"fecha":"2008-08-27","serie":"Estados Unidos","valor":1.77},{"fecha":"2008-08-30","serie":"Estados Unidos","valor":1.84},{"fecha":"2008-09-02","serie":"Estados Unidos","valor":1.82},{"fecha":"2008-09-05","serie":"Estados Unidos","valor":1.84},{"fecha":"2008-09-08","serie":"Estados Unidos","valor":1.87},{"fecha":"2008-09-11","serie":"Estados Unidos","valor":1.82},{"fecha":"2008-09-13","serie":"Estados Unidos","valor":1.89},{"fecha":"2008-09-16","serie":"Estados Unidos","valor":1.72},{"fecha":"2008-09-18","serie":"Estados Unidos","valor":1.84},{"fecha":"2008-09-21","serie":"Estados Unidos","valor":2.01},{"fecha":"2008-09-23","serie":"Estados Unidos","valor":2.06},{"fecha":"2008-09-26","serie":"Estados Unidos","valor":2.18},{"fecha":"2008-09-29","serie":"Estados Unidos","valor":2.14},{"fecha":"2008-10-01","serie":"Estados Unidos","valor":2.35},{"fecha":"2008-10-02","serie":"Estados Unidos","valor":2.35},{"fecha":"2008-10-03","serie":"Estados Unidos","valor":2.26},{"fecha":"2008-10-06","serie":"Estados Unidos","valor":2.26},{"fecha":"2008-10-09","serie":"Estados Unidos","valor":2.65},{"fecha":"2008-10-11","serie":"Estados Unidos","valor":2.96},{"fecha":"2008-10-15","serie":"Estados Unidos","valor":3.01},{"fecha":"2008-10-18","serie":"Estados Unidos","valor":2.94},{"fecha":"2008-10-21","serie":"Estados Unidos","valor":2.74},{"fecha":"2008-10-23","serie":"Estados Unidos","valor":2.67},{"fecha":"2008-10-26","serie":"Estados Unidos","valor":3.13},{"fecha":"2008-10-29","serie":"Estados Unidos","valor":3.40},{"fecha":"2008-11-01","serie":"Estados Unidos","valor":3.62},{"fecha":"2008-11-04","serie":"Estados Unidos","valor":3.52},{"fecha":"2008-11-05","serie":"Estados Unidos","valor":3.28},{"fecha":"2008-11-08","serie":"Estados Unidos","valor":3.28},{"fecha":"2008-11-11","serie":"Estados Unidos","valor":3.25},{"fecha":"2008-11-14","serie":"Estados Unidos","valor":3.35},{"fecha":"2008-11-17","serie":"Estados Unidos","valor":3.25},{"fecha":"2008-11-20","serie":"Estados Unidos","valor":3.25},{"fecha":"2008-11-22","serie":"Estados Unidos","valor":3.33},{"fecha":"2008-11-25","serie":"Estados Unidos","valor":3.45},{"fecha":"2008-11-28","serie":"Estados Unidos","valor":3.35},{"fecha":"2008-12-01","serie":"Estados Unidos","valor":3.23},{"fecha":"2008-12-04","serie":"Estados Unidos","valor":3.01},{"fecha":"2008-12-07","serie":"Estados Unidos","valor":2.65},{"fecha":"2008-12-10","serie":"Estados Unidos","valor":2.82},{"fecha":"2008-12-12","serie":"Estados Unidos","valor":2.79},{"fecha":"2008-12-15","serie":"Estados Unidos","valor":2.82},{"fecha":"2008-12-18","serie":"Estados Unidos","valor":2.65},{"fecha":"2008-12-20","serie":"Estados Unidos","valor":2.21},{"fecha":"2008-12-22","serie":"Estados Unidos","valor":2.35},{"fecha":"2008-12-27","serie":"Estados Unidos","valor":2.35},{"fecha":"2008-12-31","serie":"Estados Unidos","valor":2.40},{"fecha":"2009-01-03","serie":"Estados Unidos","valor":2.55},{"fecha":"2009-01-06","serie":"Estados Unidos","valor":2.69},{"fecha":"2009-01-09","serie":"Estados Unidos","valor":2.55},{"fecha":"2009-01-11","serie":"Estados Unidos","valor":2.50},{"fecha":"2009-01-14","serie":"Estados Unidos","valor":2.38},{"fecha":"2009-01-19","serie":"Estados Unidos","valor":2.40},{"fecha":"2009-01-23","serie":"Estados Unidos","valor":2.60},{"fecha":"2009-01-26","serie":"Estados Unidos","valor":2.45},{"fecha":"2009-01-29","serie":"Estados Unidos","valor":2.52},{"fecha":"2009-01-31","serie":"Estados Unidos","valor":2.43},{"fecha":"2009-02-05","serie":"Estados Unidos","valor":2.45},{"fecha":"2009-02-08","serie":"Estados Unidos","valor":2.40},{"fecha":"2009-02-10","serie":"Estados Unidos","valor":2.21},{"fecha":"2009-02-13","serie":"Estados Unidos","valor":2.31},{"fecha":"2009-02-16","serie":"Estados Unidos","valor":2.28},{"fecha":"2009-02-19","serie":"Estados Unidos","valor":2.21},{"fecha":"2009-02-22","serie":"Estados Unidos","valor":2.31},{"fecha":"2009-02-24","serie":"Estados Unidos","valor":2.26},
{"fecha":"2008-05-02","serie":"Japón","valor":1.38},{"fecha":"2008-05-05","serie":"Japón","valor":1.36},{"fecha":"2008-05-08","serie":"Japón","valor":1.38},{"fecha":"2008-05-11","serie":"Japón","valor":1.31},{"fecha":"2008-05-14","serie":"Japón","valor":1.36},{"fecha":"2008-05-16","serie":"Japón","valor":1.33},{"fecha":"2008-05-19","serie":"Japón","valor":1.29},{"fecha":"2008-05-22","serie":"Japón","valor":1.36},{"fecha":"2008-05-25","serie":"Japón","valor":1.41},{"fecha":"2008-05-28","serie":"Japón","valor":1.38},{"fecha":"2008-05-31","serie":"Japón","valor":1.36},{"fecha":"2008-06-03","serie":"Japón","valor":1.38},{"fecha":"2008-06-05","serie":"Japón","valor":1.33},{"fecha":"2008-06-08","serie":"Japón","valor":1.31},{"fecha":"2008-06-11","serie":"Japón","valor":1.36},{"fecha":"2008-06-14","serie":"Japón","valor":1.43},{"fecha":"2008-06-15","serie":"Japón","valor":1.46},{"fecha":"2008-06-18","serie":"Japón","valor":1.38},{"fecha":"2008-06-21","serie":"Japón","valor":1.31},{"fecha":"2008-06-24","serie":"Japón","valor":1.26},{"fecha":"2008-06-27","serie":"Japón","valor":1.21},{"fecha":"2008-06-30","serie":"Japón","valor":1.19},{"fecha":"2008-07-03","serie":"Japón","valor":1.14},{"fecha":"2008-07-07","serie":"Japón","valor":1.12},{"fecha":"2008-07-11","serie":"Japón","valor":1.10},{"fecha":"2008-07-14","serie":"Japón","valor":1.12},{"fecha":"2008-07-17","serie":"Japón","valor":1.07},{"fecha":"2008-07-20","serie":"Japón","valor":1.17},{"fecha":"2008-07-23","serie":"Japón","valor":1.19},{"fecha":"2008-07-25","serie":"Japón","valor":1.33},{"fecha":"2008-07-28","serie":"Japón","valor":1.29},{"fecha":"2008-07-31","serie":"Japón","valor":1.24},{"fecha":"2008-08-03","serie":"Japón","valor":1.26},{"fecha":"2008-08-06","serie":"Japón","valor":1.24},{"fecha":"2008-08-09","serie":"Japón","valor":1.29},{"fecha":"2008-08-12","serie":"Japón","valor":1.26},{"fecha":"2008-08-14","serie":"Japón","valor":1.31},{"fecha":"2008-08-17","serie":"Japón","valor":1.26},{"fecha":"2008-08-20","serie":"Japón","valor":1.29},{"fecha":"2008-08-23","serie":"Japón","valor":1.29},{"fecha":"2008-08-26","serie":"Japón","valor":1.31},{"fecha":"2008-08-29","serie":"Japón","valor":1.36},{"fecha":"2008-09-01","serie":"Japón","valor":1.41},{"fecha":"2008-09-03","serie":"Japón","valor":1.46},{"fecha":"2008-09-06","serie":"Japón","valor":1.43},{"fecha":"2008-09-09","serie":"Japón","valor":1.46},{"fecha":"2008-09-12","serie":"Japón","valor":1.46},{"fecha":"2008-09-15","serie":"Japón","valor":1.48},{"fecha":"2008-09-18","serie":"Japón","valor":1.67},{"fecha":"2008-09-21","serie":"Japón","valor":1.72},{"fecha":"2008-09-23","serie":"Japón","valor":1.75},{"fecha":"2008-09-26","serie":"Japón","valor":1.82},{"fecha":"2008-09-29","serie":"Japón","valor":1.87},{"fecha":"2008-10-02","serie":"Japón","valor":1.94},{"fecha":"2008-10-05","serie":"Japón","valor":2.04},{"fecha":"2008-10-08","serie":"Japón","valor":2.14},{"fecha":"2008-10-09","serie":"Japón","valor":2.31},{"fecha":"2008-10-11","serie":"Japón","valor":2.65},{"fecha":"2008-10-12","serie":"Japón","valor":2.94},{"fecha":"2008-10-15","serie":"Japón","valor":3.23},{"fecha":"2008-10-17","serie":"Japón","valor":3.50},{"fecha":"2008-10-19","serie":"Japón","valor":3.42},{"fecha":"2008-10-21","serie":"Japón","valor":3.03},{"fecha":"2008-10-23","serie":"Japón","valor":2.69},{"fecha":"2008-10-25","serie":"Japón","valor":3.03},{"fecha":"2008-10-28","serie":"Japón","valor":3.37},{"fecha":"2008-10-31","serie":"Japón","valor":3.42},{"fecha":"2008-11-02","serie":"Japón","valor":3.47},{"fecha":"2008-11-05","serie":"Japón","valor":3.50},{"fecha":"2008-11-08","serie":"Japón","valor":3.40},{"fecha":"2008-11-11","serie":"Japón","valor":3.25},{"fecha":"2008-11-14","serie":"Japón","valor":3.13},{"fecha":"2008-11-17","serie":"Japón","valor":3.03},{"fecha":"2008-11-20","serie":"Japón","valor":2.99},{"fecha":"2008-11-22","serie":"Japón","valor":3.08},{"fecha":"2008-11-25","serie":"Japón","valor":3.16},{"fecha":"2008-11-28","serie":"Japón","valor":3.42},{"fecha":"2008-12-01","serie":"Japón","valor":3.59},{"fecha":"2008-12-04","serie":"Japón","valor":3.88},{"fecha":"2008-12-07","serie":"Japón","valor":3.96},{"fecha":"2008-12-08","serie":"Japón","valor":4.30},{"fecha":"2008-12-10","serie":"Japón","valor":4.59},{"fecha":"2008-12-11","serie":"Japón","valor":5.07},{"fecha":"2008-12-12","serie":"Japón","valor":5.10},{"fecha":"2008-12-14","serie":"Japón","valor":4.44},{"fecha":"2008-12-15","serie":"Japón","valor":4.30},{"fecha":"2008-12-18","serie":"Japón","valor":4.25},{"fecha":"2008-12-20","serie":"Japón","valor":4.00},{"fecha":"2008-12-21","serie":"Japón","valor":3.71},{"fecha":"2008-12-24","serie":"Japón","valor":3.40},{"fecha":"2008-12-27","serie":"Japón","valor":3.42},{"fecha":"2008-12-28","serie":"Japón","valor":3.33},{"fecha":"2008-12-31","serie":"Japón","valor":3.16},{"fecha":"2009-01-03","serie":"Japón","valor":3.13},{"fecha":"2009-01-06","serie":"Japón","valor":3.13},{"fecha":"2009-01-09","serie":"Japón","valor":3.16},{"fecha":"2009-01-11","serie":"Japón","valor":3.03},{"fecha":"2009-01-16","serie":"Japón","valor":3.01},{"fecha":"2009-01-20","serie":"Japón","valor":2.99},{"fecha":"2009-01-23","serie":"Japón","valor":2.96},{"fecha":"2009-01-26","serie":"Japón","valor":2.99},{"fecha":"2009-01-29","serie":"Japón","valor":2.91},{"fecha":"2009-01-30","serie":"Japón","valor":2.84},{"fecha":"2009-02-02","serie":"Japón","valor":2.89},{"fecha":"2009-02-05","serie":"Japón","valor":2.99},{"fecha":"2009-02-06","serie":"Japón","valor":3.18},{"fecha":"2009-02-09","serie":"Japón","valor":3.25},{"fecha":"2009-02-12","serie":"Japón","valor":3.28},{"fecha":"2009-02-13","serie":"Japón","valor":3.47},{"fecha":"2009-02-15","serie":"Japón","valor":3.59},{"fecha":"2009-02-16","serie":"Japón","valor":3.62},{"fecha":"2009-02-19","serie":"Japón","valor":3.54},{"fecha":"2009-02-20","serie":"Japón","valor":3.47},{"fecha":"2009-02-22","serie":"Japón","valor":3.33},{"fecha":"2009-02-24","serie":"Japón","valor":3.42}
]
},
"hconcat": [
{
 "width": 393, "height": 344,
 "title": {"text": "Deuda pública a 10 años", "dx": 22},
 "data": {"name": "p1"},
 "mark": {"type": "line", "strokeWidth": 3.7, "clip": true},
 "encoding": {
  "x": {"field": "fecha", "type": "temporal",
   "scale": {"type": "utc", "domain": [{"year": 2008, "month": 5, "date": 1, "utc": true}, {"year": 2009, "month": 4, "date": 2, "utc": true}]},
   "axis": {"values": [{"year": 2008, "month": 6, "date": 1, "utc": true},{"year": 2008, "month": 7, "date": 1, "utc": true},{"year": 2008, "month": 8, "date": 1, "utc": true},{"year": 2008, "month": 9, "date": 1, "utc": true},{"year": 2008, "month": 10, "date": 1, "utc": true},{"year": 2008, "month": 11, "date": 1, "utc": true},{"year": 2008, "month": 12, "date": 1, "utc": true},{"year": 2009, "month": 1, "date": 1, "utc": true},{"year": 2009, "month": 2, "date": 1, "utc": true},{"year": 2009, "month": 3, "date": 1, "utc": true}],
    "domain": false, "grid": true, "gridColor": "#ffffff", "gridWidth": 1.5,
    "gridOpacity": {"condition": {"test": "utcmonth(datum.value) % 3 == 0", "value": 1}, "value": 0},
    "tickColor": "#333333", "tickWidth": 1.5,
    "tickSize": {"condition": [{"test": "utcmonth(datum.value) == 0", "value": -33}, {"test": "utcmonth(datum.value) % 3 == 0", "value": -20}], "value": -11},
    "labelExpr": "utcmonth(datum.value) == 5 ? 'Jun 08' : utcmonth(datum.value) == 8 ? 'Sep 08' : utcmonth(datum.value) == 11 ? 'Dic 08' : ''",
    "labelOffset": 18, "labelAlign": "center", "labelBaseline": "top", "labelPadding": 21, "labelOverlap": false, "labelFlush": false, "labelBound": false}},
  "y": {"field": "valor", "type": "quantitative",
   "scale": {"domain": [0.5, 5.5], "nice": false, "zero": false},
   "axis": {"orient": "right", "values": [0.5, 1.5, 2.5, 3.5, 4.5], "domain": false, "ticks": false, "grid": true, "gridColor": "#ffffff", "gridWidth": 1.5,
    "labelAlign": "right", "labelPadding": -6, "labelBaseline": "alphabetic", "labelOffset": -5, "minExtent": 0, "maxExtent": 0,
    "labelExpr": "replace(format(datum.value, '.1f'), '.', ',')"}},
  "color": {"field": "serie", "type": "nominal",
   "scale": {"domain": ["Estados Unidos", "Zona del euro", "Japón"], "range": ["#a6192e", "#00864e", "#3466b0"]},
   "legend": {"orient": "none", "legendX": 145, "legendY": 5, "title": null, "symbolType": "stroke", "symbolSize": 1156, "symbolStrokeWidth": 4,
    "labelFontSize": 20, "labelColor": "#000000", "labelOffset": 10, "rowPadding": -3, "padding": 0}}
 }
},
{
 "width": 393, "height": 344,
 "title": {"text": "Deuda pública a dos años"},
 "data": {"name": "p2"},
 "mark": {"type": "line", "strokeWidth": 3.7, "clip": true},
 "encoding": {
  "x": {"field": "fecha", "type": "temporal",
   "scale": {"type": "utc", "domain": [{"year": 2008, "month": 5, "date": 1, "utc": true}, {"year": 2009, "month": 4, "date": 2, "utc": true}]},
   "axis": {"values": [{"year": 2008, "month": 6, "date": 1, "utc": true},{"year": 2008, "month": 7, "date": 1, "utc": true},{"year": 2008, "month": 8, "date": 1, "utc": true},{"year": 2008, "month": 9, "date": 1, "utc": true},{"year": 2008, "month": 10, "date": 1, "utc": true},{"year": 2008, "month": 11, "date": 1, "utc": true},{"year": 2008, "month": 12, "date": 1, "utc": true},{"year": 2009, "month": 1, "date": 1, "utc": true},{"year": 2009, "month": 2, "date": 1, "utc": true},{"year": 2009, "month": 3, "date": 1, "utc": true}],
    "domain": false, "grid": true, "gridColor": "#ffffff", "gridWidth": 1.5,
    "gridOpacity": {"condition": {"test": "utcmonth(datum.value) % 3 == 0", "value": 1}, "value": 0},
    "tickColor": "#333333", "tickWidth": 1.5,
    "tickSize": {"condition": [{"test": "utcmonth(datum.value) == 0", "value": -33}, {"test": "utcmonth(datum.value) % 3 == 0", "value": -20}], "value": -11},
    "labelExpr": "utcmonth(datum.value) == 5 ? 'Jun 08' : utcmonth(datum.value) == 8 ? 'Sep 08' : utcmonth(datum.value) == 11 ? 'Dic 08' : ''",
    "labelOffset": 18, "labelAlign": "center", "labelBaseline": "top", "labelPadding": 21, "labelOverlap": false, "labelFlush": false, "labelBound": false}},
  "y": {"field": "valor", "type": "quantitative",
   "scale": {"domain": [0, 5], "nice": false, "zero": false},
   "axis": {"orient": "right", "values": [0, 1, 2, 3, 4], "domain": false, "ticks": false, "grid": true, "gridColor": "#ffffff", "gridWidth": 1.5,
    "labelAlign": "right", "labelPadding": -7, "labelBaseline": "alphabetic", "labelOffset": -5, "minExtent": 0, "maxExtent": 0}},
  "color": {"field": "serie", "type": "nominal",
   "scale": {"domain": ["Estados Unidos", "Zona del euro", "Japón"], "range": ["#a6192e", "#00864e", "#3466b0"]},
   "legend": null}
 }
},
{
 "width": 393, "height": 344,
 "title": {"text": "Rendimientos reales a 10 años¹"},
 "data": {"name": "p3"},
 "mark": {"type": "line", "strokeWidth": 3.7, "clip": true},
 "encoding": {
  "x": {"field": "fecha", "type": "temporal",
   "scale": {"type": "utc", "domain": [{"year": 2008, "month": 5, "date": 1, "utc": true}, {"year": 2009, "month": 4, "date": 2, "utc": true}]},
   "axis": {"values": [{"year": 2008, "month": 6, "date": 1, "utc": true},{"year": 2008, "month": 7, "date": 1, "utc": true},{"year": 2008, "month": 8, "date": 1, "utc": true},{"year": 2008, "month": 9, "date": 1, "utc": true},{"year": 2008, "month": 10, "date": 1, "utc": true},{"year": 2008, "month": 11, "date": 1, "utc": true},{"year": 2008, "month": 12, "date": 1, "utc": true},{"year": 2009, "month": 1, "date": 1, "utc": true},{"year": 2009, "month": 2, "date": 1, "utc": true},{"year": 2009, "month": 3, "date": 1, "utc": true}],
    "domain": false, "grid": true, "gridColor": "#ffffff", "gridWidth": 1.5,
    "tickColor": "#333333", "tickWidth": 1.5,
    "tickSize": {"condition": {"test": "utcmonth(datum.value) % 3 == 0", "value": -22}, "value": -10},
    "labelExpr": "utcmonth(datum.value) == 5 ? 'Jun 08' : utcmonth(datum.value) == 8 ? 'Sep 08' : utcmonth(datum.value) == 11 ? 'Dic 08' : ''",
    "labelOffset": 18, "labelAlign": "center", "labelBaseline": "top", "labelPadding": 20, "labelOverlap": false, "labelFlush": false, "labelBound": false}},
  "y": {"field": "valor", "type": "quantitative",
   "scale": {"domain": [1, 6], "nice": false, "zero": false},
   "axis": {"orient": "right", "values": [1, 2, 3, 4, 5], "domain": false, "ticks": false, "grid": true, "gridColor": "#ffffff", "gridWidth": 1.5,
    "labelAlign": "right", "labelPadding": -12, "labelBaseline": "alphabetic", "labelOffset": -5, "minExtent": 0, "maxExtent": 0}},
  "color": {"field": "serie", "type": "nominal",
   "scale": {"domain": ["Estados Unidos", "Zona del euro", "Japón"], "range": ["#a6192e", "#00864e", "#3466b0"]},
   "legend": null}
 }
}
]
}
